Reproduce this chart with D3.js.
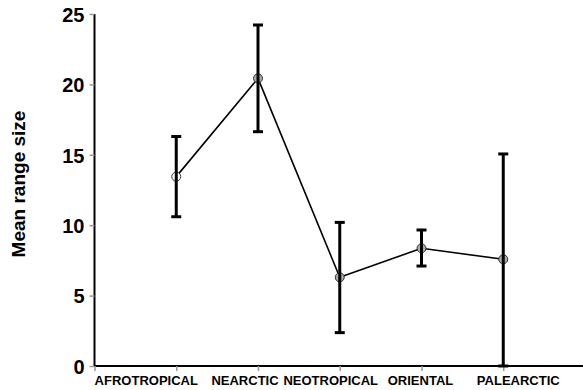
<!DOCTYPE html>
<html>
<head>
<meta charset="utf-8">
<script src="https://cdn.jsdelivr.net/npm/d3@7"></script>
<style>
  html, body { margin: 0; padding: 0; background: #fff; }
  svg { display: block; font-family: "Liberation Sans", Arial, sans-serif; }
</style>
</head>
<body>
<svg id="chart" width="583" height="390"></svg>
<script>
// Biogeographic realms and their mean range size with error bars
const realms = ["AFROTROPICAL", "NEARCTIC", "NEOTROPICAL", "ORIENTAL", "PALEARCTIC"];
const means = [13.45, 20.43, 6.3, 8.36, 7.58];
const upper = [16.3, 24.22, 10.2, 9.66, 15.06];
const lower = [10.6, 16.64, 2.37, 7.1, 0];
const yTicks = [0, 5, 10, 15, 20, 25];

const svg = d3.select("#chart");

// realm i sits at position i+1 on a 0..6 axis
const x = d3.scaleLinear().domain([0, 6]).range([94.5, 585]);
const y = d3.scaleLinear().domain([0, 25]).range([366, 14]);

// horizontal nudges for the category labels, in pixels
const labelShift = [-30, -13, -9, -1, 15];

// y axis
const yAxis = svg.append("g")
  .attr("transform", `translate(${x(0)},0)`)
  .call(d3.axisLeft(y).tickValues(yTicks).tickSize(5).tickPadding(5).tickFormat(d3.format("d")));
yAxis.select(".domain").attr("stroke", "#000").attr("stroke-width", 2)
  .attr("d", `M0,${y(25)}V${y(0)}`);
yAxis.selectAll(".tick line").attr("stroke", "#999").attr("stroke-width", 1.5);
yAxis.selectAll(".tick text")
  .attr("font-size", 20).attr("font-weight", "bold").attr("fill", "#000")
  .attr("dy", "0.36em");

// x axis
const xAxis = svg.append("g")
  .attr("transform", `translate(0,${y(0)})`)
  .call(d3.axisBottom(x).tickValues([0, 1, 2, 3, 4, 5]).tickSize(5).tickFormat(""));
xAxis.select(".domain").attr("stroke", "#000").attr("stroke-width", 2)
  .attr("d", `M${x(0)},0H583`);
xAxis.selectAll(".tick line").attr("stroke", "#999").attr("stroke-width", 1.5);

svg.append("g").selectAll("text")
  .data(realms)
  .join("text")
  .attr("x", (d, i) => x(i + 1) + labelShift[i])
  .attr("y", 385)
  .attr("text-anchor", "middle")
  .attr("font-size", 13)
  .attr("font-weight", "bold")
  .attr("fill", "#000")
  .text(d => d);

// y axis title
svg.append("text")
  .attr("transform", `translate(25,${184}) rotate(-90)`)
  .attr("text-anchor", "middle")
  .attr("font-size", 19)
  .attr("font-weight", "bold")
  .attr("fill", "#000")
  .text("Mean range size");

// connecting line through the means
const line = d3.line().x((d, i) => x(i + 1)).y(d => y(d));
svg.append("path")
  .datum(means)
  .attr("d", line)
  .attr("fill", "none")
  .attr("stroke", "#000")
  .attr("stroke-width", 1.6);

// mean markers (first one open)
svg.append("g").selectAll("circle")
  .data(means)
  .join("circle")
  .attr("cx", (d, i) => x(i + 1))
  .attr("cy", d => y(d))
  .attr("r", 4.5)
  .attr("fill", (d, i) => i === 0 ? "#fff" : "#aaa")
  .attr("stroke", "#333")
  .attr("stroke-width", 1);

// error bars
const capHalf = 5;
const bars = svg.append("g").selectAll("g")
  .data(realms.map((r, i) => ({ i, lo: lower[i], hi: upper[i] })))
  .join("g")
  .attr("stroke", "#000")
  .attr("stroke-width", 3);
bars.append("line")
  .attr("x1", d => x(d.i + 1)).attr("x2", d => x(d.i + 1))
  .attr("y1", d => y(d.hi)).attr("y2", d => y(d.lo));
bars.append("line")
  .attr("x1", d => x(d.i + 1) - capHalf).attr("x2", d => x(d.i + 1) + capHalf)
  .attr("y1", d => y(d.hi)).attr("y2", d => y(d.hi));
bars.append("line")
  .attr("x1", d => x(d.i + 1) - capHalf).attr("x2", d => x(d.i + 1) + capHalf)
  .attr("y1", d => y(d.lo)).attr("y2", d => y(d.lo));
</script>
</body>
</html>
